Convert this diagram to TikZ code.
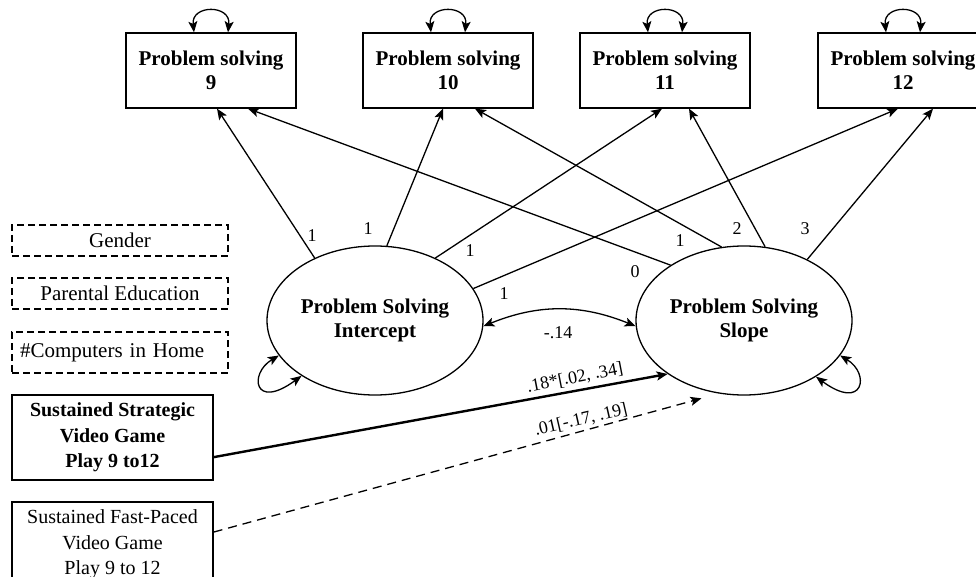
\documentclass[tikz,border=0pt]{standalone}
\usepackage{fontspec}
\setmainfont{Liberation Serif}
\usepackage{tikz}
\usetikzlibrary{arrows.meta, shapes.geometric}
\tikzset{>={Stealth[length=11pt, width=9pt, inset=2.5pt]}}
\tikzset{
  obs/.style={draw, line width=1.3pt, minimum width=170pt, minimum height=75pt, inner sep=0pt,
    align=center, font=\fontsize{21}{24}\selectfont\bfseries},
  latent/.style={draw, ellipse, line width=1.3pt, minimum width=216pt, minimum height=149pt,
    inner sep=0pt, align=center, font=\fontsize{21}{24}\selectfont\bfseries},
  ctrl/.style={draw, dash pattern=on 7pt off 4pt, line width=1.3pt, minimum width=216pt,
    inner sep=0pt, font=\fontsize{21}{24}\selectfont},
  pred/.style={draw, line width=1.3pt, minimum width=201pt, minimum height=85pt, inner sep=0pt,
    align=center, font=\fontsize{20}{25.5}\selectfont},
  lbl/.style={inner sep=0pt, font=\fontsize{18}{20}\selectfont},
  path/.style={->, line width=1.3pt},
  cov/.style={<->, line width=1.3pt}
}
\begin{document}
\begin{tikzpicture}[x=1pt, y=-1pt]
      \useasboundingbox (0,0) rectangle (976,577);
      % observed problem solving scores
      \node[obs] (b9) at (211,70.5) {Problem solving\\9};
      \node[obs] (b10) at (448,70.5) {Problem solving\\10};
      \node[obs] (b11) at (665,70.5) {Problem solving\\11};
      \node[obs] (b12) at (903,70.5) {Problem solving\\12};
      % growth factors
      \node[latent] (int) at (375,320.5) {Problem Solving\\Intercept};
      \node[latent] (slope) at (744,320.5) {Problem Solving\\Slope};
      % covariates and predictors
      \node[ctrl, minimum height=31pt] (gen) at (120,240.5) {Gender};
      \node[ctrl, minimum height=31pt] (par) at (120,293.5) {Parental Education};
      \node[ctrl, minimum height=41pt, text width=200pt, align=left] (comp) at (120,352.5) {\#Computers in Home};
      \node[pred] (strat) at (112.5,437.5) {\bfseries Sustained Strategic\\\bfseries Video Game\\\bfseries Play 9 to12};
      \node[pred] (fast) at (112.5,544.5) {Sustained Fast-Paced\\Video Game\\Play 9 to 12};
      % residual variances
      \draw[cov] ([xshift=-17pt]b9.north) .. controls +(-3,-28) and +(3,-28) .. ([xshift=17pt]b9.north);
      \draw[cov] ([xshift=-17pt]b10.north) .. controls +(-3,-28) and +(3,-28) .. ([xshift=17pt]b10.north);
      \draw[cov] ([xshift=-17pt]b11.north) .. controls +(-3,-28) and +(3,-28) .. ([xshift=17pt]b11.north);
      \draw[cov] ([xshift=-17pt]b12.north) .. controls +(-3,-28) and +(3,-28) .. ([xshift=17pt]b12.north);
      \draw[cov] (int.200) .. controls +(-30,18) and +(-48,35) .. (int.217);
      \draw[cov] (slope.340) .. controls +(30,18) and +(48,35) .. (slope.322);
      % loadings
      \draw[path] (int.134) to ([xshift=6pt]b9.south);
      \draw[path] (int.81) to ([xshift=-5pt]b10.south);
      \draw[path] (int.46) to ([xshift=-3pt]b11.south);
      \draw[path] (int.18) to ([xshift=-5pt]b12.south);
      \draw[path] (slope.143) to ([xshift=37pt]b9.south);
      \draw[path] (slope.107) to ([xshift=27pt]b10.south);
      \draw[path] (slope.74) to ([xshift=24pt]b11.south);
      \draw[path] (slope.44) to ([xshift=30pt]b12.south);
      \node[lbl] (w1) at (312,236) {1};
      \node[lbl] (w2) at (368,229) {1};
      \node[lbl] (w3) at (470,251) {1};
      \node[lbl] (w4) at (504,294) {1};
      \node[lbl] (w5) at (635,272) {0};
      \node[lbl] (w6) at (680,241) {1};
      \node[lbl] (w7) at (737,229) {2};
      \node[lbl] (w8) at (805,229) {3};
      % factor covariance
      \draw[cov] (int.-3) to[bend left=22] (slope.183);
      \node[lbl] (covlbl) at (558,333) {-.14};
      % regressions on the slope
      \draw[->, line width=2.4pt] (strat.-11.5) to (slope.215);
      \draw[->, line width=1.3pt, dash pattern=on 9pt off 6pt, shorten >=18pt] (fast.7) to (slope.251);
      \node[lbl, rotate=11] (stratlbl) at (575,378) {.18*[.02, .34]};
      \node[lbl, rotate=13] (fastlbl) at (581,420) {.01[-.17, .19]};
    \end{tikzpicture}
\end{document}
